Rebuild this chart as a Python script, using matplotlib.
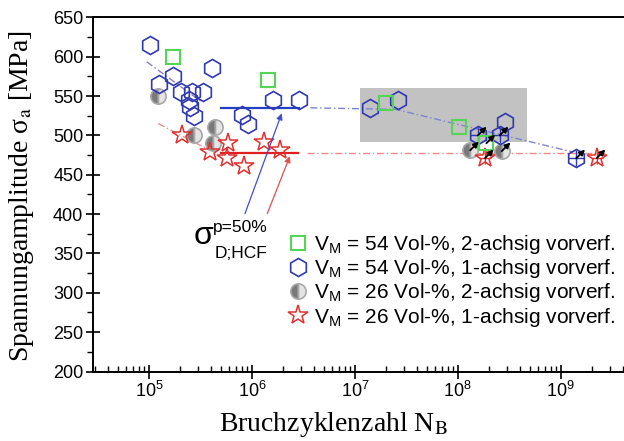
import matplotlib
matplotlib.use('Agg')
import matplotlib.pyplot as plt
from matplotlib.lines import Line2D
from matplotlib.patches import Rectangle
from matplotlib.ticker import LogLocator, MultipleLocator, NullFormatter, FixedLocator

# ---------------- data ----------------
# V_M = 54 Vol-%, 2-achsig vorverf. (green squares)
g_x = [1.71e5, 1.44e6, 2.03e7, 1.035e8]
g_y = [600, 570, 541, 510]
g_run_x = [1.9e8]
g_run_y = [490]

# V_M = 54 Vol-%, 1-achsig vorverf. (blue hexagons)
b_x = [1.02e5, 4.06e5, 1.72e5, 1.25e5, 2.03e5, 2.6e5, 3.37e5, 2.44e5, 2.5e5,
       2.75e5, 7.94e5, 9.2e5, 1.59e6, 2.85e6, 1.4e7, 2.64e7, 2.86e8]
b_y = [615, 585, 575, 565, 555, 555, 555, 545, 536,
       524, 526, 515, 545, 545, 535, 545, 517]
b_run_x = [1.57e8, 2.56e8, 1.42e9]
b_run_y = [500, 500, 471]

# V_M = 26 Vol-%, 2-achsig vorverf. (grey half circles)
c_x = [1.23e5, 2.74e5, 4.37e5, 4.22e5]
c_y = [550, 500, 510, 490]
c_run_x = [1.32e8, 2.68e8]
c_run_y = [481, 480]

# V_M = 26 Vol-%, 1-achsig vorverf. (red stars)
s_x = [2.1e5, 3.92e5, 5.9e5, 5.7e5, 8.4e5, 1.3e6, 1.87e6]
s_y = [501, 479, 490, 471, 461, 491, 481]
s_run_x = [1.84e8, 2.24e9]
s_run_y = [471, 471]

# fatigue strength lines (sigma_D;HCF p=50%)
blue_hcf_x = [5.0e5, 2.87e6]
blue_hcf_y = [535, 535]
red_hcf_x = [5.0e5, 2.82e6]
red_hcf_y = [477, 477]
blue_ext_x = [3.7e6, 2.5e7, 1.3e9]
blue_ext_y = [535, 533, 479]
red_ext_x = [3.4e6, 2.7e9]
red_ext_y = [477, 477]
blue_lcf_x = [9.5e4, 3.25e5]
blue_lcf_y = [593.5, 542.6]
red_lcf_x = [1.23e5, 3.92e5]
red_lcf_y = [515, 481]

# grey scatter band
band_x = [1.12e7, 4.7e8]
band_y = [492, 560]

legend_labels = [r'V$_\mathrm{M}$ = 54 Vol-%, 2-achsig vorverf.',
                 r'V$_\mathrm{M}$ = 54 Vol-%, 1-achsig vorverf.',
                 r'V$_\mathrm{M}$ = 26 Vol-%, 2-achsig vorverf.',
                 r'V$_\mathrm{M}$ = 26 Vol-%, 1-achsig vorverf.']

xticks = [1e5, 1e6, 1e7, 1e8, 1e9]
yticks = [200, 250, 300, 350, 400, 450, 500, 550, 600, 650]

# ---------------- style ----------------
plt.rcParams['font.family'] = ['Liberation Sans', 'DejaVu Sans']
plt.rcParams['mathtext.fontset'] = 'custom'
plt.rcParams['mathtext.rm'] = 'Liberation Sans'
plt.rcParams['mathtext.it'] = 'Liberation Sans:italic'
plt.rcParams['mathtext.bf'] = 'Liberation Sans:bold'

GREEN = '#55d455'
BLUE = '#3038b0'
RED = '#e03030'

W, H = 624, 441
fig = plt.figure(figsize=(W / 100, H / 100), dpi=100)
ax = fig.add_axes([93 / W, 1 - 371.5 / H, 1 - 93 / W, (371.5 - 17.3) / H])
ax.set_xscale('log')
ax.set_xlim(10 ** 4.456, 10 ** 9.616)
ax.set_ylim(200, 650)

# band
ax.add_patch(Rectangle((band_x[0], band_y[0]), band_x[1] - band_x[0], band_y[1] - band_y[0],
                       facecolor='#c2c2c2', edgecolor='none', zorder=0))

# lines
dd = (5, 2, 1, 2)
ax.plot(blue_ext_x, blue_ext_y, color='#7d85d0', lw=1.0, dashes=dd, zorder=1)
ax.plot(red_ext_x, red_ext_y, color='#f08a8a', lw=1.0, dashes=dd, zorder=1)
ax.plot(blue_lcf_x, blue_lcf_y, color='#8a80c8', lw=1.0, dashes=dd, zorder=1)
ax.plot(red_lcf_x, red_lcf_y, color='#e89090', lw=1.0, dashes=dd, zorder=1)
ax.plot(blue_hcf_x, blue_hcf_y, color='#2040c8', lw=1.6, zorder=2)
ax.plot(red_hcf_x, red_hcf_y, color='#e02020', lw=1.6, zorder=2)

# markers
hex_kw = dict(ls='none', marker='h', ms=13, mfc='none', mec=BLUE, mew=1.2, zorder=3)
sq_kw = dict(ls='none', marker='s', ms=10, mfc='none', mec=GREEN, mew=1.5, zorder=4)
circ_kw = dict(ls='none', marker='o', ms=11, fillstyle='left', mfc='#7a7a7a',
               mfcalt='#e4e4e4', mec='#a8a8a8', mew=1.2, zorder=3)
star_kw = dict(ls='none', marker='*', ms=15, mfc='none', mec=RED, mew=1.1, zorder=3)

ax.plot(c_x, c_y, **circ_kw)
ax.plot(c_run_x, c_run_y, **circ_kw)
ax.plot(s_x, s_y, **star_kw)
ax.plot(s_run_x, s_run_y, **star_kw)
ax.plot(s_run_x, s_run_y, ls='none', marker='+', ms=9, mec=RED, mew=1.0, zorder=3)
ax.plot(b_x, b_y, **hex_kw)
ax.plot(b_run_x, b_run_y, **hex_kw)
ax.plot(b_run_x, b_run_y, ls='none', marker='+', ms=11, mec=BLUE, mew=1.0, zorder=3)
ax.plot(g_x, g_y, **sq_kw)
ax.plot(g_run_x, g_run_y, **sq_kw)

# run-out arrows
for xs, ys in [(c_run_x, c_run_y), (s_run_x, s_run_y), (b_run_x, b_run_y), (g_run_x, g_run_y)]:
    for x, y in zip(xs, ys):
        ax.annotate('', xy=(x * 10 ** 0.085, y + 11), xytext=(x, y),
                    arrowprops=dict(arrowstyle='-|>', color='k', lw=1.3,
                                    mutation_scale=8, shrinkA=0, shrinkB=0), zorder=6)

# arrows to sigma_D;HCF lines
ax.annotate('', xy=(1.95e6, 527.9), xytext=(8.57e5, 400.6),
            arrowprops=dict(arrowstyle='-|>', color='#4050c8', lw=0.9,
                            mutation_scale=9, shrinkA=0, shrinkB=0), zorder=5)
ax.annotate('', xy=(2.34e6, 473.5), xytext=(1.41e6, 400.6),
            arrowprops=dict(arrowstyle='-|>', color='#e05050', lw=0.9,
                            mutation_scale=9, shrinkA=0, shrinkB=0), zorder=5)

# sigma label
fig.text(194 / W, 1 - 244 / H, 'σ', fontsize=23, ha='left', va='baseline')
fig.text(213 / W, 1 - 232 / H, 'p=50%', fontsize=12.5, ha='left', va='baseline')
fig.text(215 / W, 1 - 258 / H, 'D;HCF', fontsize=12.5, ha='left', va='baseline')

# axes styling
for side in ['left', 'bottom', 'top']:
    ax.spines[side].set_linewidth(1.4)
ax.spines['right'].set_visible(False)

ax.xaxis.set_major_locator(FixedLocator(xticks))
ax.xaxis.set_minor_locator(LogLocator(base=10, subs=range(2, 10), numticks=20))
ax.xaxis.set_minor_formatter(NullFormatter())
ax.yaxis.set_major_locator(FixedLocator(yticks))
ax.yaxis.set_minor_locator(MultipleLocator(25))

ax.tick_params(axis='both', which='major', direction='inout', length=10, width=1.2,
               labelsize=13, pad=2, top=False, right=False)
ax.tick_params(axis='x', which='minor', direction='in', length=4, width=1.0, top=False)
ax.tick_params(axis='y', which='minor', direction='out', length=4, width=1.0, right=False)

# axis labels
fig.text(22 / W, 1 - 196 / H, r'Spannungamplitude σ$_\mathrm{a}$ [MPa]', rotation=90,
         ha='center', va='center', fontsize=20, fontfamily='Liberation Serif',
         math_fontfamily='stix')
fig.text(334 / W, 1 - 431 / H, r'Bruchzyklenzahl N$_\mathrm{B}$', ha='center', va='baseline',
         fontsize=20, fontfamily='Liberation Serif', math_fontfamily='stix')

# legend
handles = [
    Line2D([], [], ls='none', marker='s', ms=10, mfc='none', mec=GREEN, mew=1.5),
    Line2D([], [], ls='none', marker='h', ms=13, mfc='none', mec=BLUE, mew=1.2),
    Line2D([], [], ls='none', marker='o', ms=11, fillstyle='left', mfc='#7a7a7a',
           mfcalt='#e4e4e4', mec='#a8a8a8', mew=1.2),
    Line2D([], [], ls='none', marker='*', ms=15, mfc='none', mec=RED, mew=1.1),
]
fig.legend(handles, legend_labels, loc='upper left', bbox_to_anchor=(290 / W, 1 - 233 / H),
           bbox_transform=fig.transFigure, frameon=False, fontsize=15, handlelength=0.8,
           handletextpad=0.35, labelspacing=0.06, borderpad=0, borderaxespad=0, numpoints=1)

fig.savefig('out.png', dpi=100)
